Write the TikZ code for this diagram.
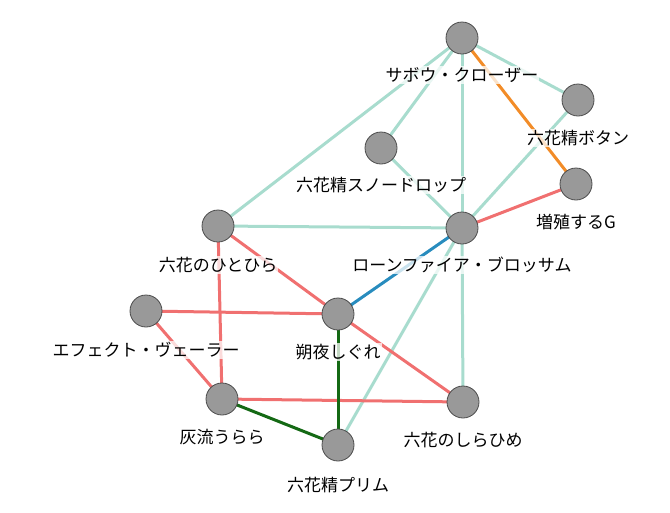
\documentclass[tikz,border=0pt]{standalone}
\usepackage{fontspec}
\setmainfont{Noto Sans CJK JP}
\begin{document}
\begin{tikzpicture}[x=1pt,y=-1pt,
  vtx/.style={circle,fill=gray!80!white,draw=gray!60!black,line width=0.8pt,minimum size=32pt,inner sep=0pt},
  lab/.style={fill=white,fill opacity=0.75,text opacity=1,inner sep=1pt,font=\fontsize{17}{20}\selectfont},
  teal/.style={draw={rgb,255:red,168;green,220;blue,206},line width=3pt},
  redl/.style={draw={rgb,255:red,240;green,112;blue,112},line width=3pt},
  orl/.style={draw={rgb,255:red,242;green,140;blue,40},line width=3pt},
  bluel/.style={draw={rgb,255:red,40;green,140;blue,190},line width=3pt},
  grnl/.style={draw={rgb,255:red,20;green,105;blue,20},line width=3pt}]
\useasboundingbox (0,0) rectangle (670,512);
\coordinate (sab) at (462,38);
\coordinate (bot) at (578,100);
\coordinate (sno) at (381,148);
\coordinate (zou) at (576,184);
\coordinate (hit) at (218,226);
\coordinate (lon) at (462,228);
\coordinate (eff) at (146,311);
\coordinate (sak) at (338,314);
\coordinate (hai) at (222,399);
\coordinate (shi) at (463,402);
\coordinate (pri) at (338,445);
% edges
\draw[teal] (sab) -- (hit);
\draw[teal] (sab) -- (sno);
\draw[teal] (sab) -- (lon);
\draw[teal] (sab) -- (bot);
\draw[teal] (bot) -- (lon);
\draw[teal] (sno) -- (lon);
\draw[teal] (hit) -- (lon);
\draw[teal] (lon) -- (shi);
\draw[teal] (lon) -- (pri);
\draw[orl] (sab) -- (zou);
\draw[redl] (zou) -- (lon);
\draw[redl] (hit) -- (sak);
\draw[redl] (hit) -- (hai);
\draw[redl] (eff) -- (sak);
\draw[redl] (eff) -- (hai);
\draw[redl] (sak) -- (shi);
\draw[redl] (hai) -- (shi);
\draw[bluel] (lon) -- (sak);
\draw[grnl] (sak) -- (pri);
\draw[grnl] (hai) -- (pri);
% labels
\node[lab] (lsab) at (462,75) {サボウ・クローザー};
\node[lab] (lbot) at (578,138) {六花精ボタン};
\node[lab] (lsno) at (381,185) {六花精スノードロップ};
\node[lab] (lzou) at (576,222) {増殖するG};
\node[lab] (lhit) at (218,265) {六花のひとひら};
\node[lab] (llon) at (462,265) {ローンファイア・ブロッサム};
\node[lab] (leff) at (146,350) {エフェクト・ヴェーラー};
\node[lab] (lsak) at (338,352) {朔夜しぐれ};
\node[lab] (lhai) at (222,437) {灰流うらら};
\node[lab] (lshi) at (463,440) {六花のしらひめ};
\node[lab] (lpri) at (338,485) {六花精プリム};
% vertices
\foreach \n in {sab,bot,sno,zou,hit,lon,eff,sak,hai,shi,pri}
  \node[vtx] (v\n) at (\n) {};
\end{tikzpicture}
\end{document}
